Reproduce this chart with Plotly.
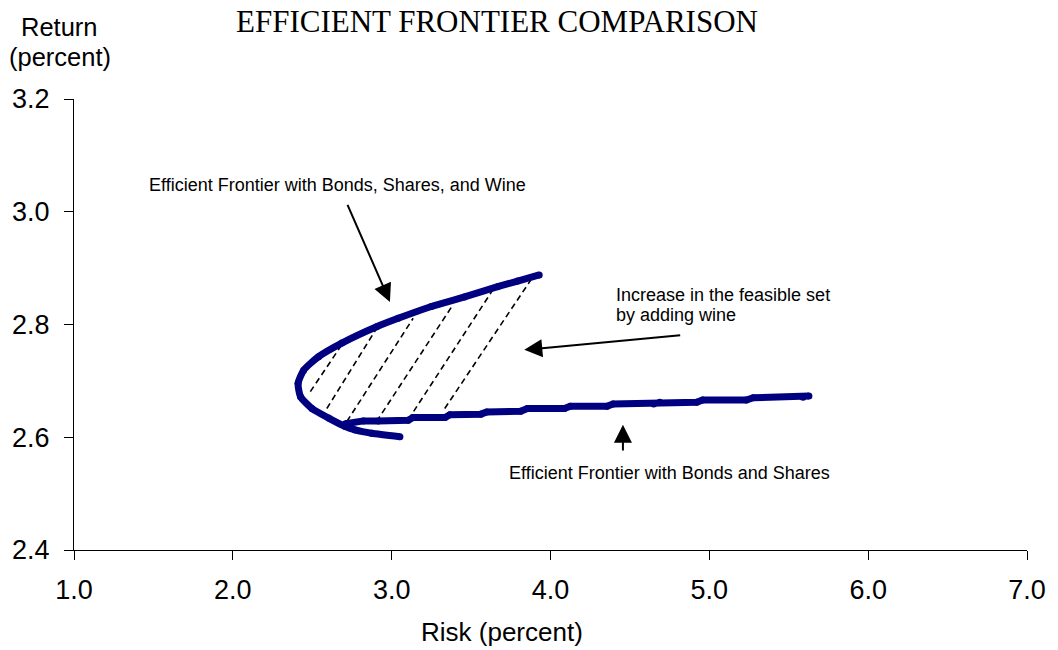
import plotly.graph_objects as go

# ---- data ----
wine_risk = [3.929, 3.793, 3.667, 3.459, 3.250, 3.041, 2.905, 2.686, 2.540, 2.446,
             2.411, 2.426, 2.498, 2.603, 2.708, 2.770, 2.874, 3.052]
wine_return = [2.888, 2.877, 2.867, 2.849, 2.832, 2.811, 2.796, 2.767, 2.743, 2.719,
               2.696, 2.672, 2.651, 2.634, 2.619, 2.613, 2.607, 2.601]

bs_risk = [2.709, 2.822, 2.916, 3.104, 3.135, 3.336, 3.367, 3.561, 3.599, 3.812,
           3.855, 4.087, 4.125, 4.356, 4.394, 4.650, 4.688, 4.920, 4.958, 5.233,
           5.277, 5.590, 5.627]
bs_return = [2.624, 2.629, 2.629, 2.630, 2.635, 2.635, 2.640, 2.641, 2.645, 2.646,
             2.651, 2.651, 2.655, 2.655, 2.659, 2.659, 2.662, 2.662, 2.666, 2.666,
             2.670, 2.671, 2.673]

# dashed hatch segments: lower point -> upper point
dash_x0 = [2.488, 2.592, 2.718, 2.905, 3.104, 3.334]
dash_y0 = [2.681, 2.651, 2.628, 2.628, 2.631, 2.651]
dash_x1 = [2.686, 2.905, 3.135, 3.386, 3.636, 3.876]
dash_y1 = [2.764, 2.793, 2.811, 2.835, 2.861, 2.879]

x_ticks = [1.0, 2.0, 3.0, 4.0, 5.0, 6.0, 7.0]
y_ticks = [2.4, 2.6, 2.8, 3.0, 3.2]

title_text = "EFFICIENT FRONTIER COMPARISON"
x_title = "Risk (percent)"
y_title_lines = ["Return", "(percent)"]
label_wine = "Efficient Frontier with Bonds, Shares, and Wine"
label_bs = "Efficient Frontier with Bonds and Shares"
label_incr = ["Increase in the feasible set", "by adding wine"]

NAVY = "#000080"
SANS = "Liberation Sans, Arial, sans-serif"
SERIF = "Liberation Serif, Times New Roman, serif"

fig = go.Figure()

# hatch lines
hx, hy = [], []
for a, b, c, d in zip(dash_x0, dash_y0, dash_x1, dash_y1):
    hx += [a, c, None]
    hy += [b, d, None]
fig.add_trace(go.Scatter(x=hx, y=hy, mode="lines",
                         line=dict(color="black", width=1.6, dash="6px,4px"),
                         hoverinfo="skip", showlegend=False))

fig.add_trace(go.Scatter(x=wine_risk, y=wine_return, mode="lines+markers",
                         line=dict(color=NAVY, width=7, shape="spline", smoothing=0.6),
                         marker=dict(color=NAVY, size=7),
                         showlegend=False))
fig.add_trace(go.Scatter(x=bs_risk, y=bs_return, mode="lines+markers",
                         line=dict(color=NAVY, width=7),
                         marker=dict(color=NAVY, size=7),
                         showlegend=False))

annotations = []
# arrows (tail -> head in data coordinates)
arrows = [
    ((2.718, 3.015), (2.989, 2.840)),
    ((4.826, 2.781), (3.835, 2.755)),
    ((4.456, 2.574), (4.456, 2.622)),
]
for (tx, ty), (hx_, hy_) in arrows:
    annotations.append(dict(x=hx_, y=hy_, ax=tx, ay=ty, xref="x", yref="y",
                            axref="x", ayref="y", text="", showarrow=True,
                            arrowhead=2, arrowsize=1.8, arrowwidth=2,
                            arrowcolor="black"))

LBL = dict(family=SANS, size=18, color="black")
# in-plot labels
annotations.append(dict(x=2.656, y=3.047, xref="x", yref="y", text=label_wine,
                        showarrow=False, xanchor="center", yanchor="middle", font=LBL))
annotations.append(dict(x=4.751, y=2.537, xref="x", yref="y", text=label_bs,
                        showarrow=False, xanchor="center", yanchor="middle", font=LBL))
annotations.append(dict(x=4.398, y=2.852, xref="x", yref="y", text=label_incr[0],
                        showarrow=False, xanchor="left", yanchor="middle", font=LBL))
annotations.append(dict(x=4.398, y=2.817, xref="x", yref="y", text=label_incr[1],
                        showarrow=False, xanchor="left", yanchor="middle", font=LBL))

# title and axis titles (paper coordinates)
annotations.append(dict(x=0.4434, y=1.171, xref="paper", yref="paper", text=title_text,
                        showarrow=False, xanchor="center", yanchor="middle",
                        font=dict(family=SERIF, size=31, color="black")))
annotations.append(dict(x=-0.0156, y=1.160, xref="paper", yref="paper",
                        text=y_title_lines[0], showarrow=False,
                        xanchor="center", yanchor="middle",
                        font=dict(family=SANS, size=25.5, color="black")))
annotations.append(dict(x=-0.0145, y=1.094, xref="paper", yref="paper",
                        text=y_title_lines[1], showarrow=False,
                        xanchor="center", yanchor="middle",
                        font=dict(family=SANS, size=25.5, color="black")))
annotations.append(dict(x=0.4486, y=-0.182, xref="paper", yref="paper", text=x_title,
                        showarrow=False, xanchor="center", yanchor="middle",
                        font=dict(family=SANS, size=26, color="black")))

fig.update_layout(
    width=1058, height=650,
    margin=dict(l=74, r=21, t=99, b=100),
    paper_bgcolor="white", plot_bgcolor="white",
    font=dict(family=SANS, color="black"),
    annotations=annotations,
    showlegend=False,
)
fig.update_xaxes(range=[1.0, 7.0], tickvals=x_ticks, tickformat=".1f",
                 showgrid=False, zeroline=False, showline=True, linecolor="black",
                 linewidth=1, ticks="outside", ticklen=9, tickcolor="black",
                 tickwidth=1, tickfont=dict(family=SANS, size=27, color="black"),
                 ticklabelstandoff=7)
fig.update_yaxes(range=[2.4, 3.2], tickvals=y_ticks, tickformat=".1f",
                 showgrid=False, zeroline=False, showline=True, linecolor="black",
                 linewidth=1, ticks="outside", ticklen=9, tickcolor="black",
                 tickwidth=1, tickfont=dict(family=SANS, size=27, color="black"),
                 ticklabelstandoff=9)

fig.write_html("out.html")
